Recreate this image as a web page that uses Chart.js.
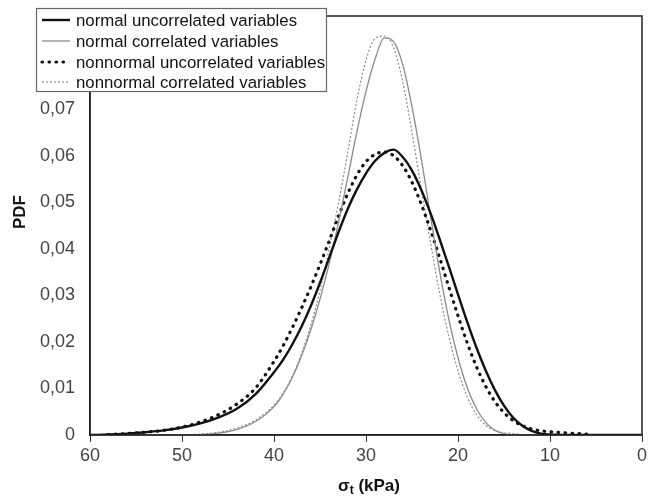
<!DOCTYPE html>
<html>
<head>
<meta charset="utf-8">
<script src="https://cdn.jsdelivr.net/npm/chart.js@4/dist/chart.umd.min.js"></script>
<style>
  body { margin: 0; background: #fff; }
  #wrap { width: 651px; height: 501px; }
</style>
</head>
<body>
<div id="wrap"><canvas id="grafico" width="651" height="501"></canvas></div>
<script>
// sigma_t (kPa) grid
const sigma = [60, 58, 56, 54, 52, 50, 48, 46, 44, 42, 40,
  39, 38, 37, 36, 35, 34, 33, 32, 31, 30, 29, 28, 27, 26, 25, 24, 23, 22, 21,
  20, 19, 18, 17, 16, 15, 14, 13, 12, 11, 10, 8, 6, 4, 2, 0];

const normalUncorr = [0, 0.0001, 0.0003, 0.0006, 0.001, 0.0016, 0.0025, 0.0038, 0.0057, 0.0088, 0.0135,
  0.0162, 0.0195, 0.0233, 0.0277, 0.0327, 0.0381, 0.0435, 0.0485, 0.0527, 0.0562, 0.0589, 0.0606, 0.0613, 0.0597, 0.0568, 0.0527, 0.0477, 0.0421, 0.0362,
  0.0302, 0.0243, 0.0188, 0.0139, 0.0097, 0.0063, 0.0037, 0.002, 0.0009, 0.0003, 0.0001, 0, 0, 0, 0, 0];

const normalCorr = [0, 0, 0, 0, 0, 0, 0.0001, 0.0004, 0.0012, 0.0029, 0.0061,
  0.0088, 0.0124, 0.017, 0.0226, 0.0292, 0.0368, 0.0455, 0.0552, 0.065, 0.0738, 0.0808, 0.0853, 0.0845, 0.0795, 0.0705, 0.0595, 0.0472, 0.0352, 0.0249,
  0.0166, 0.0102, 0.0057, 0.0027, 0.001, 0.0003, 0, 0, 0, 0, 0, 0, 0, 0, 0, 0];

const nonnormalUncorr = [null, 0.0001, 0.0003, 0.0006, 0.001, 0.0017, 0.0028, 0.0044, 0.0067, 0.0101, 0.0158,
  0.0192, 0.0231, 0.0273, 0.0318, 0.0366, 0.0417, 0.0469, 0.0518, 0.0558, 0.0587, 0.0603, 0.0608, 0.06, 0.0578, 0.0543, 0.0496, 0.0441, 0.0381, 0.0318,
  0.0256, 0.0198, 0.0147, 0.0105, 0.0072, 0.0048, 0.0031, 0.002, 0.0013, 0.0009, 0.0007, 0.0004, 0.0002, null, null, null];

const nonnormalCorr = [null, null, null, null, null, 0, 0.0002, 0.0006, 0.0015, 0.0032, 0.0064,
  0.009, 0.0127, 0.0175, 0.0236, 0.031, 0.04, 0.0497, 0.0605, 0.0718, 0.0805, 0.0852, 0.0857, 0.0832, 0.0758, 0.065, 0.053, 0.0415, 0.0305, 0.0212,
  0.0138, 0.0082, 0.0044, 0.0021, 0.001, 0.0005, 0.0003, 0.0001, 0, null, null, null, null, null, null, null];

const rotulos = ["normal uncorrelated variables", "normal correlated variables",
  "nonnormal uncorrelated variables", "nonnormal correlated variables"];

const fonte = "'Liberation Sans', Arial, sans-serif";

function pontos(valores) {
  return sigma.map((s, i) => ({ x: s, y: valores[i] }));
}

const estilos = [
  { color: "#111", width: 2.4, dash: [], cap: "butt" },
  { color: "#8a8a8a", width: 1.3, dash: [], cap: "butt" },
  { color: "#111", width: 3.2, dash: [0.5, 6.5], cap: "round" },
  { color: "#8a8a8a", width: 1.2, dash: [2, 2], cap: "butt" }
];

const series = [normalUncorr, normalCorr, nonnormalUncorr, nonnormalCorr];

const moldura = {
  id: "moldura",
  afterDraw(chart) {
    const ctx = chart.ctx;
    const a = chart.chartArea;
    ctx.save();
    // box around plot
    ctx.strokeStyle = "#222";
    ctx.lineWidth = 1.5;
    ctx.strokeRect(a.left, a.top, a.right - a.left, a.bottom - a.top);

    // legend
    ctx.fillStyle = "#fff";
    ctx.fillRect(36, 8, 290, 83);
    ctx.strokeStyle = "#666";
    ctx.lineWidth = 1.2;
    ctx.strokeRect(36.5, 8.5, 290, 83);
    const linhas = [20, 41, 62, 82];
    ctx.font = "16.8px " + fonte;
    ctx.textBaseline = "middle";
    ctx.textAlign = "left";
    rotulos.forEach((txt, i) => {
      const e = estilos[i];
      ctx.beginPath();
      ctx.strokeStyle = e.color;
      ctx.lineWidth = e.width;
      ctx.lineCap = e.cap;
      ctx.setLineDash(e.dash);
      ctx.moveTo(42, linhas[i]);
      ctx.lineTo(70, linhas[i]);
      ctx.stroke();
      ctx.setLineDash([]);
      ctx.fillStyle = "#111";
      ctx.fillText(txt, 76, linhas[i] + 1);
    });

    // y title
    ctx.save();
    ctx.translate(20, 212);
    ctx.rotate(-Math.PI / 2);
    ctx.font = "bold 17px " + fonte;
    ctx.textAlign = "center";
    ctx.fillStyle = "#111";
    ctx.fillText("PDF", 0, 0);
    ctx.restore();

    // x title with subscript
    ctx.font = "bold 17px " + fonte;
    ctx.textAlign = "left";
    ctx.fillStyle = "#111";
    const w1 = ctx.measureText("σ").width;
    ctx.font = "bold 12px " + fonte;
    const w2 = ctx.measureText("t").width;
    ctx.font = "bold 17px " + fonte;
    const w3 = ctx.measureText(" (kPa)").width;
    let x0 = 369 - (w1 + w2 + w3) / 2;
    const y0 = 486;
    ctx.fillText("σ", x0, y0);
    ctx.font = "bold 12px " + fonte;
    ctx.fillText("t", x0 + w1, y0 + 5);
    ctx.font = "bold 17px " + fonte;
    ctx.fillText(" (kPa)", x0 + w1 + w2, y0);
    ctx.restore();
  }
};

new Chart(document.getElementById("grafico").getContext("2d"), {
  type: "line",
  data: {
    datasets: series.map((v, i) => ({
      label: rotulos[i],
      data: pontos(v),
      borderColor: estilos[i].color,
      borderWidth: estilos[i].width,
      borderDash: estilos[i].dash,
      borderCapStyle: estilos[i].cap,
      pointRadius: 0,
      fill: false,
      cubicInterpolationMode: "monotone",
      spanGaps: false
    }))
  },
  options: {
    responsive: false,
    animation: false,
    devicePixelRatio: 1,
    layout: { padding: { top: 16, right: 9, left: 0, bottom: 0 } },
    plugins: { legend: { display: false }, tooltip: { enabled: false } },
    scales: {
      x: {
        type: "linear",
        reverse: true,
        min: 0,
        max: 60,
        ticks: { stepSize: 10, color: "#444", font: { size: 18, family: fonte }, padding: 3, maxRotation: 0 },
        grid: { drawOnChartArea: false, tickLength: 7, color: "#333" },
        border: { color: "#222", width: 1.5 },
        afterFit: (s) => { s.height = 66; s.paddingLeft = 0; s.paddingRight = 0; }
      },
      y: {
        min: 0,
        max: 0.09,
        ticks: {
          stepSize: 0.01,
          color: "#444",
          font: { size: 18, family: fonte },
          padding: 15,
          callback: (v) => v === 0 ? "0" : (v > 0.075 ? "" : v.toFixed(2).replace(".", ","))
        },
        grid: { drawOnChartArea: false, drawTicks: false },
        border: { color: "#222", width: 1.5 },
        afterFit: (s) => { s.width = 90; s.paddingTop = 0; s.paddingBottom = 0; }
      }
    }
  },
  plugins: [moldura]
});
</script>
</body>
</html>
